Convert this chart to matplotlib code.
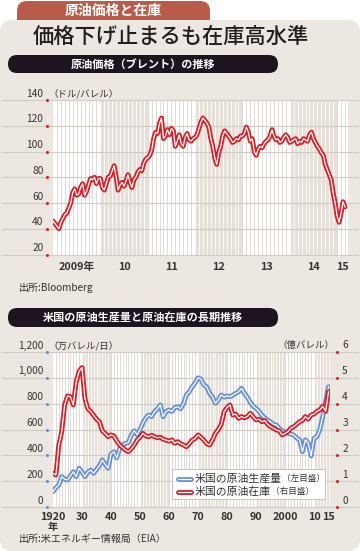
import numpy as np
import matplotlib.pyplot as plt
import matplotlib.transforms as mtransforms
from matplotlib.patches import FancyBboxPatch, Rectangle
from matplotlib.lines import Line2D

plt.rcParams['font.family'] = ['Noto Sans CJK JP', 'DejaVu Sans']

# Brent, half-monthly, Jan 2009 - Mar 2015 (dollars/barrel)
brent = [46, 44, 42, 40, 45, 48, 51, 52, 56, 60, 68, 71, 66, 67, 72, 75, 66, 69, 74, 79, 78, 80, 75, 79,
         79, 72, 70, 75, 80, 81, 85, 89, 80, 70, 74, 76, 73, 77, 82, 76, 72, 78, 80, 84, 86, 85, 91, 94,
         95, 97, 101, 110, 115, 114, 122, 126, 110, 112, 117, 113, 118, 116, 104, 108, 113, 106, 104, 111, 114, 109, 108, 110,
         111, 113, 118, 123, 126, 124, 122, 119, 110, 104, 95, 90, 99, 104, 112, 116, 114, 112, 110, 107, 108, 110, 109, 112,
         112, 114, 119, 115, 108, 110, 100, 97, 102, 104, 103, 106, 108, 109, 112, 117, 112, 109, 110, 107, 108, 111, 113, 111,
         107, 108, 109, 110, 106, 108, 107, 110, 109, 108, 113, 115, 110, 107, 104, 102, 99, 97, 90, 86, 82, 78, 68, 60,
         50, 45, 52, 61, 57]
brent_dates = 2009 + np.arange(len(brent)) / 24
brent_ticks = [2009.5, 2010.5, 2011.5, 2012.5, 2013.5, 2014.5, 2015.12]
brent_ticklabels = ['2009年', '10', '11', '12', '13', '14', '15']
brent_yticks = [20, 40, 60, 80, 100, 120, 140]

# US crude production (10k b/d, left) and stocks (100M bbl, right), 1920-2015
years = np.arange(1920, 2016)
production = [118, 150, 170, 235, 215, 209, 240, 273, 235, 300,
              270, 235, 270, 286, 261, 290, 320, 364, 330, 300,
              410, 428, 380, 454, 480, 493, 500, 557, 590, 560,
              600, 650, 690, 712, 700, 738, 760, 790, 699, 740,
              751, 740, 770, 776, 760, 800, 867, 892, 931, 960,
              1000, 990, 945, 930, 880, 850, 803, 830, 867, 850,
              860, 854, 865, 880, 892, 919, 880, 850, 810, 780,
              764, 740, 712, 690, 673, 660, 640, 635, 609, 590,
              580, 570, 565, 557, 535, 520, 428, 520, 493, 395,
              532, 545, 600, 700, 820, 931]
stocks = [1.30, 1.24, 2.4, 2.9, 3.95, 4.3, 4.27, 3.95, 4.85, 5.25,
          5.4, 4.2, 3.8, 3.7, 3.55, 3.4, 3.3, 2.95, 2.85, 2.72,
          2.79, 2.75, 2.55, 2.4, 2.3, 2.2, 2.14, 2.25, 2.4, 2.59,
          2.7, 2.85, 2.75, 2.72, 2.78, 2.72, 2.68, 2.7, 2.62, 2.59,
          2.55, 2.6, 2.47, 2.53, 2.45, 2.4, 2.33, 2.45, 2.59, 2.65,
          2.79, 2.7, 2.59, 2.45, 2.4, 2.6, 2.85, 3.0, 3.2, 3.69,
          3.85, 3.95, 3.56, 3.6, 3.43, 3.5, 3.45, 3.5, 3.63, 3.5,
          3.37, 3.4, 3.3, 3.35, 3.2, 3.11, 3.05, 2.98, 2.95, 2.79,
          2.85, 2.92, 3.05, 3.11, 3.2, 3.3, 3.35, 3.5, 3.4, 3.56,
          3.6, 3.7, 3.76, 3.9, 3.7, 4.46]
long_ticks = [1920, 1930, 1940, 1950, 1960, 1970, 1980, 1990, 2000, 2010, 2015]
long_ticklabels = ['1920', '30', '40', '50', '60', '70', '80', '90', '2000', '10', '15']
left_ticks = [0, 200, 400, 600, 800, 1000, 1200]
left_ticklabels = ['0', '200', '400', '600', '800', '1,000', '1,200']
right_ticks = [0, 1, 2, 3, 4, 5, 6]

RED = '#d71f27'
BLUE = '#6690d3'
BG = '#ece7e0'
BAND = '#e5e0d8'
STRIPE = '#dad5ce'
GRID = '#d0cbc3'
TXT = '#333333'
NARROW = ['Liberation Sans Narrow', 'Noto Sans CJK JP']

W, H = 360, 551
fig = plt.figure(figsize=(W / 100, H / 100), dpi=100)
fig.patch.set_facecolor('white')


def fx(px):
    return px / W


def fy(py):
    return 1 - py / H


def box(x0, y0, x1, y1, color, r, z):
    # pixel box (top-down y) drawn in inches
    p = FancyBboxPatch((x0 / 100, (H - y1) / 100), (x1 - x0) / 100, (y1 - y0) / 100,
                       boxstyle='round,pad=0,rounding_size=%g' % r,
                       transform=fig.dpi_scale_trans, fc=color, ec='none', zorder=z)
    fig.add_artist(p)


box(17, 1, 210, 30, '#b85b4b', 0.1, -3)
box(0, 20, 360, 551, BG, 0.12, -2)
box(8, 55, 278, 73, '#1d1420', 0.09, -1)
box(8, 308, 278, 327, '#1d1420', 0.09, -1)

fig.text(fx(113), fy(11), '原油価格と在庫', color='white', fontsize=10, fontweight='bold', ha='center', va='center')
fig.text(fx(171), fy(37), '価格下げ止まるも在庫高水準', color='#1e1e1e', fontsize=15.3, fontweight='medium',
         ha='center', va='center')
fig.text(fx(143), fy(64), '原油価格（ブレント）の推移', color='white', fontsize=8, fontweight='bold', ha='center', va='center')
fig.text(fx(143), fy(317.5), '米国の原油生産量と原油在庫の長期推移', color='white', fontsize=8, fontweight='bold', ha='center', va='center')
fig.text(fx(19), fy(288), '出所:Bloomberg', color=TXT, fontsize=7.2, va='center')
fig.text(fx(19), fy(539), '出所:米エネルギー情報局（EIA）', color=TXT, fontsize=7.2, va='center')


def striped(ax, start, end, step, band_len):
    n = 0
    b = start
    while b < end:
        if n % 2 == 1:
            ax.axvspan(b, min(b + band_len, end), color=BAND, lw=0, zorder=0)
        n += 1
        b += band_len
    for v in np.arange(start + step, end, step):
        odd = int((v - start + 1e-6) // band_len) % 2 == 1
        ax.axvline(v, color='white' if odd else STRIPE, lw=0.6, zorder=0.5)


def double_line(ax, x, y, color):
    ax.plot(x, y, color=color, lw=3.5, solid_joinstyle='round', solid_capstyle='round', zorder=3)
    ax.plot(x, y, color='white', lw=0.9, solid_joinstyle='round', zorder=3.1)


# ---- chart 1: Brent
ax1 = fig.add_axes([fx(53), fy(254.5), 295 / W, 154.5 / H])
ax1.set_facecolor('white')
ax1.set_xlim(2009, 2015.23)
ax1.set_ylim(20, 140)
for s in ax1.spines.values():
    s.set_visible(False)
ax1.set_xticks([])
ax1.set_yticks([])
striped(ax1, 2009, 2015.23, 1 / 12, 1)
ymix1 = mtransforms.blended_transform_factory(ax1.transAxes, ax1.transData)
lab1 = mtransforms.offset_copy(ymix1, fig=fig, y=6.5, units='dots')
for v in brent_yticks:
    ax1.plot([-51 / 295, 1.034], [v, v], color=GRID, lw=0.8, transform=ymix1, clip_on=False, zorder=1)
    ax1.plot([-6 / 295], [v], 'o', ms=2.2, mec='none', color=RED, transform=ymix1, clip_on=False, zorder=4)
    ax1.text(-9.5 / 295, v, str(v), transform=lab1, ha='right', va='center', fontsize=7.3, color=TXT)
ax1.text(-5 / 295, 140, '（ドル/バレル）', transform=lab1, ha='left', va='center', fontsize=6.8, color=TXT)
xmix1 = mtransforms.blended_transform_factory(ax1.transData, ax1.transAxes)
for p, t in zip(brent_ticks, brent_ticklabels):
    ax1.text(p, -0.083, t, transform=xmix1, ha='center', va='center', fontsize=7.8,
             fontweight='bold', family=NARROW, color=TXT)
double_line(ax1, brent_dates, brent, RED)

# ---- chart 2: long term
ax2 = fig.add_axes([fx(53), fy(507), 277 / W, 155 / H])
ax2.set_facecolor('white')
ax2.set_xlim(1920, 2015.5)
ax2.set_ylim(0, 1200)
for s in ax2.spines.values():
    s.set_visible(False)
ax2.set_xticks([])
ax2.set_yticks([])
striped(ax2, 1920, 2015.5, 1, 10)
ymix2 = mtransforms.blended_transform_factory(ax2.transAxes, ax2.transData)
lab2 = mtransforms.offset_copy(ymix2, fig=fig, y=6.5, units='dots')
for v, t in zip(left_ticks, left_ticklabels):
    ax2.plot([-51 / 277, 1.1], [v, v], color=GRID, lw=0.8, transform=ymix2, clip_on=False, zorder=1)
    ax2.plot([-6 / 277], [v], 'o', ms=2.2, mec='none', color=BLUE, transform=ymix2, clip_on=False, zorder=4)
    ax2.text(-9.5 / 277, v, t, transform=lab2, ha='right', va='center', fontsize=7.3, color=TXT)
ax2.text(-5 / 277, 1200, '（万バレル/日）', transform=lab2, ha='left', va='center', fontsize=6.8, color=TXT)
ax2.text(281 / 277, 1200, '（億バレル）', transform=lab2, ha='right', va='center', fontsize=6.8, color=TXT)
xmix2 = mtransforms.blended_transform_factory(ax2.transData, ax2.transAxes)
for p, t in zip(long_ticks, long_ticklabels):
    ax2.text(p, -0.0626, t, transform=xmix2, ha='center', va='center', fontsize=7.8,
             fontweight='bold', family=NARROW, color=TXT)
ax2.text(1920, -0.129, '年', transform=xmix2, ha='center', va='center', fontsize=7.3,
         fontweight='bold', color=TXT)
double_line(ax2, years, production, BLUE)

ax3 = ax2.twinx()
ax3.set_ylim(0, 6)
ax3.set_xlim(1920, 2015.5)
for s in ax3.spines.values():
    s.set_visible(False)
ax3.set_xticks([])
ax3.set_yticks([])
ymix3 = mtransforms.blended_transform_factory(ax3.transAxes, ax3.transData)
lab3 = mtransforms.offset_copy(ymix3, fig=fig, y=6.5, units='dots')
for v in right_ticks:
    ax3.plot([284 / 277], [v], 'o', ms=2.2, mec='none', color=RED, transform=ymix3, clip_on=False, zorder=4)
    ax3.text(292 / 277, v, str(v), transform=lab3, ha='center', va='center', fontsize=7.3, color=TXT)
double_line(ax3, years, stocks, RED)

# ---- legend
fig.add_artist(Rectangle((fx(171.5), fy(499)), (325 - 171.5) / W, 30 / H, transform=fig.transFigure,
                         fc='white', ec='#bdb8b0', lw=0.6, zorder=5))
entries = [(478.5, BLUE, '米国の原油生産量', '（左目盛）'), (491.5, RED, '米国の原油在庫', '（右目盛）')]
renderer = fig.canvas.get_renderer()
for yy, c, main, sub in entries:
    fig.add_artist(Line2D([fx(178), fx(191)], [fy(yy), fy(yy)], transform=fig.transFigure,
                          color=c, lw=3.5, solid_capstyle='round', zorder=6))
    fig.add_artist(Line2D([fx(178), fx(191)], [fy(yy), fy(yy)], transform=fig.transFigure,
                          color='white', lw=0.9, zorder=6.1))
    t = fig.text(fx(195), fy(yy), main, fontsize=7.8, color=TXT, va='center', zorder=6)
    bb = t.get_window_extent(renderer)
    fig.text(bb.x1 / (W), fy(yy), sub, fontsize=6.2, color=TXT, va='center', zorder=6)

fig.savefig('out.png', dpi=100)
